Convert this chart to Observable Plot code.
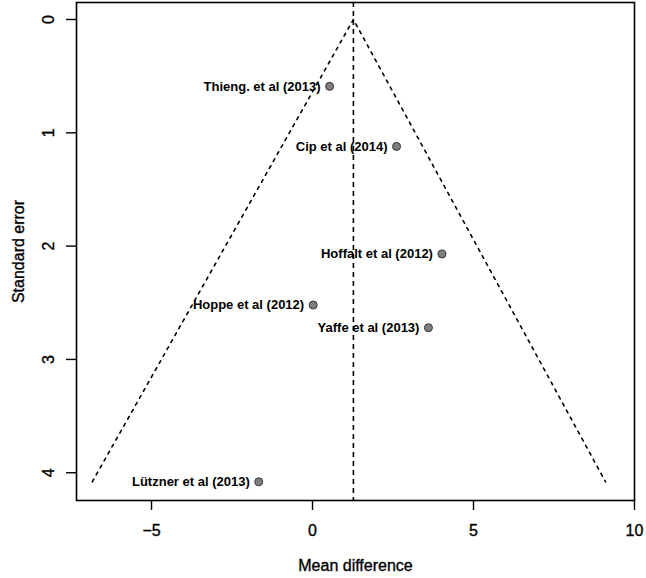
<!DOCTYPE html>
<html>
<head>
<meta charset="utf-8">
<script src="https://cdn.jsdelivr.net/npm/d3@7"></script>
<script src="https://cdn.jsdelivr.net/npm/@observablehq/plot@0.6"></script>
<style>
  html, body { margin: 0; padding: 0; background: #fff; }
  #chart svg { display: block; }
</style>
</head>
<body>
<div id="chart"></div>
<script>
// Studies (funnel plot)
const studies = ["Thieng. et al (2013)", "Cip et al (2014)", "Hoffalt et al (2012)", "Hoppe et al (2012)", "Yaffe et al (2013)", "Lützner et al (2013)"];
const meanDiff = [0.53, 2.61, 4.02, 0.02, 3.6, -1.67];
const stdErr = [0.59, 1.12, 2.07, 2.52, 2.72, 4.08];

// Summary effect line and funnel outline
const summaryEffect = 1.27;
const funnelX = [-6.84, 1.27, 9.1];
const funnelY = [4.08, 0, 4.08];

const xTicks = [-5, 0, 5, 10];
const yTicks = [0, 1, 2, 3, 4];

const data = studies.map((s, i) => ({study: s, md: meanDiff[i], se: stdErr[i]}));
const funnel = funnelX.map((x, i) => ({x, y: funnelY[i]}));

const font = "Liberation Sans, Arial, Helvetica, sans-serif";
const thick = {fill: "#000", stroke: "#000", strokeWidth: 0.35};

const chart = Plot.plot({
  width: 646,
  height: 578,
  marginLeft: 76,
  marginRight: 12,
  marginTop: 2,
  marginBottom: 78,
  style: {fontFamily: font, color: "#000", background: "#fff"},
  x: {domain: [-7.33, 10]},
  y: {domain: [-0.15, 4.245], reverse: true},
  marks: [
    Plot.frame({stroke: "#000", strokeWidth: 1.6}),
    Plot.axisX({ticks: xTicks, tickSize: 10, text: null, label: null, strokeWidth: 1.4}),
    Plot.text(xTicks, {x: d => d, frameAnchor: "bottom", dy: 30, text: d => d < 0 ? "\u2212" + Math.abs(d) : String(d), fontSize: 16, textAnchor: "middle", lineAnchor: "middle", ...thick}),
    Plot.axisY({ticks: yTicks, tickSize: 10, text: null, label: null, strokeWidth: 1.4}),
    Plot.text(yTicks, {y: d => d, frameAnchor: "left", dx: -28, rotate: -90, text: d => String(d), fontSize: 16, textAnchor: "middle", lineAnchor: "middle", ...thick}),
    Plot.text(["Standard error"], {frameAnchor: "left", dx: -58, rotate: -90, fontSize: 16, textAnchor: "middle", lineAnchor: "middle", ...thick}),
    Plot.text(["Mean difference"], {frameAnchor: "bottom", dy: 65, fontSize: 16, textAnchor: "middle", lineAnchor: "middle", ...thick}),
    Plot.ruleX([summaryEffect], {stroke: "#000", strokeWidth: 1.6, strokeDasharray: "5,4"}),
    Plot.line(funnel, {x: "x", y: "y", stroke: "#000", strokeWidth: 1.6, strokeDasharray: "3,5"}),
    Plot.dot(data, {x: "md", y: "se", r: 4, fill: "#7f7f7f", stroke: "#333", strokeWidth: 1}),
    Plot.text(data, {x: "md", y: "se", text: "study", textAnchor: "end", dx: -9, fontSize: 13, fontWeight: "bold", fill: "#000"})
  ]
});
document.getElementById("chart").appendChild(chart);
</script>
</body>
</html>
